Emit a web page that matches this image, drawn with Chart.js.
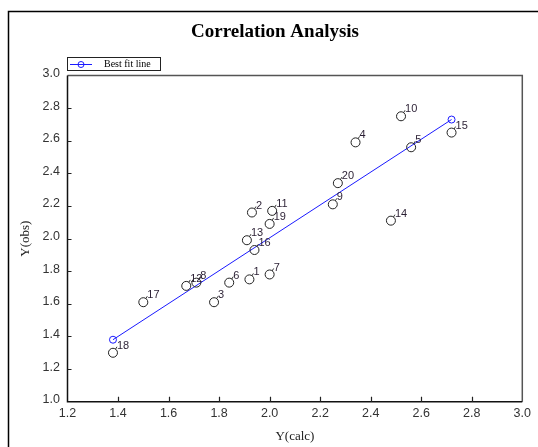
<!DOCTYPE html>
<html>
<head>
<meta charset="utf-8">
<script src="https://cdn.jsdelivr.net/npm/chart.js@4/dist/chart.umd.min.js"></script>
<style>
  html, body { margin: 0; padding: 0; background: #fff; }
  #wrap { width: 538px; height: 447px; position: relative; }
</style>
</head>
<body>
<div id="wrap"><canvas id="c" width="538" height="447"></canvas></div>
<script>
// ---- data ----
const chartTitle = 'Correlation Analysis';
const pointIds = ['1','2','3','4','5','6','7','8','9','10','11','12','13','14','15','16','17','18','19','20'];
const yCalc = [1.92, 1.93, 1.78, 2.34, 2.56, 1.84, 2.00, 1.71, 2.25, 2.52, 2.01, 1.67, 1.91, 2.48, 2.72, 1.94, 1.50, 1.38, 2.00, 2.27];
const yObs  = [1.75, 2.16, 1.61, 2.59, 2.56, 1.73, 1.78, 1.73, 2.21, 2.75, 2.17, 1.71, 1.99, 2.11, 2.65, 1.93, 1.61, 1.30, 2.09, 2.34];
const fitX = [1.38, 2.72];
const fitY = [1.38, 2.73];
const fitLabel = 'Best fit line';
const xTickValues = [1.2, 1.4, 1.6, 1.8, 2.0, 2.2, 2.4, 2.6, 2.8, 3.0];
const yTickValues = [1.0, 1.2, 1.4, 1.6, 1.8, 2.0, 2.2, 2.4, 2.6, 2.8, 3.0];
const xTitle = 'Y(calc)';
const yTitle = 'Y(obs)';

const BLUE = '#1a1aff';
const SANS = '"Liberation Sans", Arial, sans-serif';
const SERIF = '"Liberation Serif", "Times New Roman", serif';

const decorPlugin = {
  id: 'decor',
  beforeDraw(chart) {
    const ctx = chart.ctx;
    ctx.save();
    ctx.fillStyle = '#fff';
    ctx.fillRect(0, 0, chart.width, chart.height);
    ctx.restore();
  },
  afterDatasetsDraw(chart) {
    const ctx = chart.ctx;
    const a = chart.chartArea;
    const xs = chart.scales.x, ys = chart.scales.y;
    ctx.save();
    // outer frame
    ctx.strokeStyle = '#000';
    ctx.lineWidth = 1.5;
    ctx.strokeRect(8.5, 11.5, 700, 700);
    // plot box
    ctx.lineWidth = 1.5;
    ctx.strokeStyle = '#555';
    ctx.beginPath();
    ctx.moveTo(a.left, a.top); ctx.lineTo(a.right, a.top); ctx.lineTo(a.right, a.bottom);
    ctx.stroke();
    ctx.strokeStyle = '#111';
    ctx.beginPath();
    ctx.moveTo(a.left, a.top); ctx.lineTo(a.left, a.bottom); ctx.lineTo(a.right, a.bottom);
    ctx.stroke();
    // inward tick marks
    ctx.lineWidth = 1.2;
    ctx.strokeStyle = '#222';
    ctx.beginPath();
    xTickValues.forEach(v => {
      if (v <= xs.min || v >= xs.max) return;
      const px = Math.round(xs.getPixelForValue(v)) + 0.5;
      ctx.moveTo(px, a.bottom); ctx.lineTo(px, a.bottom - 5);
    });
    yTickValues.forEach(v => {
      if (v <= ys.min || v >= ys.max) return;
      const py = Math.round(ys.getPixelForValue(v)) + 0.5;
      ctx.moveTo(a.left, py); ctx.lineTo(a.left + 4, py);
    });
    ctx.stroke();
    // point labels
    const meta = chart.getDatasetMeta(0);
    ctx.font = '11px ' + SANS;
    ctx.fillStyle = '#2a1f33';
    ctx.textAlign = 'left';
    ctx.textBaseline = 'middle';
    ctx.strokeStyle = '#333';
    ctx.lineWidth = 1;
    meta.data.forEach((el, i) => {
      ctx.beginPath();
      ctx.moveTo(el.x + 2.5, el.y - 3.5);
      ctx.lineTo(el.x + 4, el.y - 6);
      ctx.stroke();
      ctx.fillText(pointIds[i], el.x + 4, el.y - 7);
    });
    // title
    ctx.font = 'bold 19px ' + SERIF;
    ctx.fillStyle = '#000';
    ctx.textAlign = 'center';
    ctx.fillText(chartTitle, 275, 32);
    // legend box
    ctx.lineWidth = 1;
    ctx.strokeStyle = '#222';
    ctx.strokeRect(67.5, 57.5, 93, 13);
    ctx.strokeStyle = BLUE;
    ctx.beginPath();
    ctx.moveTo(70, 64.5); ctx.lineTo(92, 64.5);
    ctx.stroke();
    ctx.beginPath();
    ctx.arc(81, 64.5, 3, 0, Math.PI * 2);
    ctx.stroke();
    ctx.font = '10px ' + SERIF;
    ctx.fillStyle = '#000';
    ctx.textAlign = 'left';
    ctx.fillText(fitLabel, 104, 64.5);
    ctx.restore();
  }
};

new Chart(document.getElementById('c'), {
  data: {
    datasets: [
      {
        type: 'scatter',
        label: 'Observations',
        data: yCalc.map((x, i) => ({ x: x, y: yObs[i] })),
        pointStyle: 'circle',
        pointRadius: 4.5,
        pointHoverRadius: 4.5,
        pointBorderWidth: 1,
        pointBorderColor: '#222',
        pointBackgroundColor: 'rgba(0,0,0,0)'
      },
      {
        type: 'line',
        label: fitLabel,
        data: fitX.map((x, i) => ({ x: x, y: fitY[i] })),
        borderColor: BLUE,
        borderWidth: 1,
        pointRadius: 3.5,
        pointBorderWidth: 1,
        pointBorderColor: BLUE,
        pointBackgroundColor: 'rgba(0,0,0,0)',
        fill: false,
        tension: 0
      }
    ]
  },
  options: {
    responsive: false,
    animation: false,
    devicePixelRatio: 1,
    layout: { padding: { top: 75.5, right: 15.7, bottom: 0, left: 0 } },
    plugins: {
      legend: { display: false },
      title: { display: false },
      tooltip: { enabled: false }
    },
    scales: {
      x: {
        type: 'linear',
        min: 1.2, max: 3.0,
        afterBuildTicks: s => { s.ticks = xTickValues.map(v => ({ value: v })); },
        afterFit: s => { s.height = 45.3; },
        grid: { display: false, drawTicks: false },
        border: { display: false },
        ticks: {
          padding: 4,
          color: '#333',
          font: { family: SANS, size: 12.5 },
          maxRotation: 0,
          autoSkip: false,
          callback: v => Number(v).toFixed(1)
        },
        title: {
          display: true,
          text: xTitle,
          color: '#222',
          font: { family: SERIF, size: 13 },
          padding: { top: 0, bottom: 2.2 }
        }
      },
      y: {
        type: 'linear',
        min: 1.0, max: 3.0,
        afterBuildTicks: s => { s.ticks = yTickValues.map(v => ({ value: v })); },
        afterFit: s => { s.width = 67.5; },
        grid: { display: false, drawTicks: false },
        border: { display: false },
        ticks: {
          padding: 7.5,
          labelOffset: -2,
          color: '#333',
          font: { family: SANS, size: 12.5 },
          autoSkip: false,
          callback: v => Number(v).toFixed(1)
        },
        title: {
          display: true,
          text: yTitle,
          color: '#222',
          font: { family: SERIF, size: 13 },
          padding: { top: 18.2, bottom: 0 }
        }
      }
    }
  },
  plugins: [decorPlugin]
});
</script>
</body>
</html>
